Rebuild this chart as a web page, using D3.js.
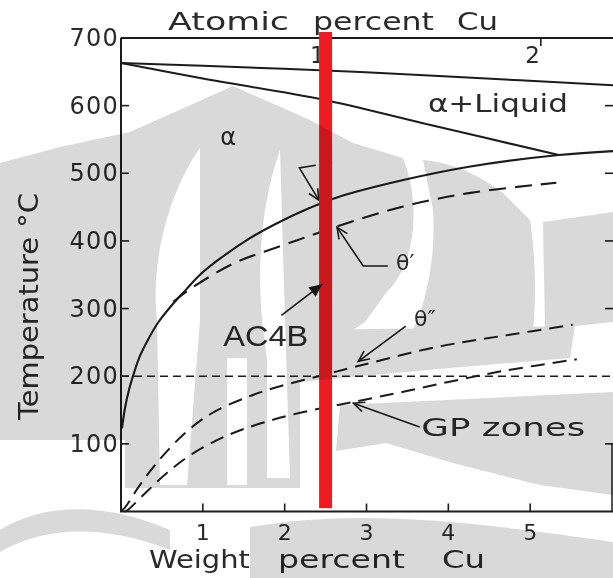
<!DOCTYPE html>
<html><head><meta charset="utf-8">
<script src="https://cdn.jsdelivr.net/npm/d3@7"></script>
<style>
body{margin:0;background:#fff}
svg{display:block}
text{font-family:"DejaVu Sans",sans-serif;fill:#2a2a2a}
</style>
</head><body>
<svg id="chart" width="613" height="578"></svg>
<script>
// ---------------- data (weight % Cu, temperature °C) ----------------
const wtTicks = [1, 2, 3, 4, 5];
const tempTicks = [100, 200, 300, 400, 500, 600];
const atomicTicks = [{label: "1", wt: 2.5}, {label: "2", wt: 5.13}];
const liquidus = [[0,663],[1,659],[2.5,652],[4,643],[6.05,630]];
const solidus = [[0,663],[1,640],[2.46,609],[3.69,574],[5.35,527]];
const solvus = [[0.012,123],[0.049,153],[0.098,180],[0.159,205],[0.232,230],[0.33,254],[0.452,279],[0.6,302],[0.795,328],[0.965,350],[1.2,373],[1.576,404],[1.87,424],[2.31,449],[2.63,464],[3.45,490],[4.27,510],[5.35,527],[6.05,533]];
const thetaPrime = [[0.64,310],[0.81,326],[1.38,367],[1.99,394],[2.63,421],[3.45,451],[4.27,471],[5.32,486]];
const thetaDoublePrime = [[0.0,0],[0.05,6],[0.23,39],[0.48,78],[0.81,119],[1.12,146],[1.54,169],[1.91,184],[2.45,201],[2.96,217],[3.85,243],[4.68,260],[5.52,276]];
const gpZones = [[0.05,0],[0.09,3],[0.32,30],[0.56,57],[0.88,86],[1.29,112],[1.7,130],[2.19,146],[2.84,162],[3.45,177],[4.06,193],[4.68,208],[5.57,225]];
const agingTemp = 200;
const alloyWt = 2.5;          // AC4B
const alloyName = "AC4B";

// ---------------- layout ----------------
const svg = d3.select("#chart");
const x = d3.scaleLinear().domain([0, 6]).range([121, 612]);
const y = d3.scaleLinear().domain([0, 700]).range([511.5, 38]);
const ink = "#1c1c1c";

const gChart = svg.append("g");

// frame
gChart.append("path")
  .attr("d", `M${x(0)},${y(700)}L${x(0)},${y(0)}L${x(6)+2},${y(0)}`)
  .attr("fill","none").attr("stroke",ink).attr("stroke-width",2);
gChart.append("line").attr("x1",x(0)).attr("x2",613).attr("y1",y(700)).attr("y2",y(700))
  .attr("stroke",ink).attr("stroke-width",2);
gChart.append("line").attr("x1",612).attr("x2",612).attr("y1",y(100)).attr("y2",y(0))
  .attr("stroke",ink).attr("stroke-width",1.5);

// ticks (inward)
gChart.selectAll(".lt").data(tempTicks).join("line")
  .attr("x1",x(0)).attr("x2",x(0)+8).attr("y1",d=>y(d)).attr("y2",d=>y(d))
  .attr("stroke",ink).attr("stroke-width",1.6);
gChart.selectAll(".rt").data(tempTicks.filter(d=>d!==200)).join("line")
  .attr("x1",605).attr("x2",613).attr("y1",d=>y(d)).attr("y2",d=>y(d))
  .attr("stroke",ink).attr("stroke-width",1.6);
gChart.selectAll(".bt").data(wtTicks).join("line")
  .attr("x1",d=>x(d)).attr("x2",d=>x(d)).attr("y1",y(0)).attr("y2",y(0)-8)
  .attr("stroke",ink).attr("stroke-width",1.6);
gChart.selectAll(".tt").data(atomicTicks).join("line")
  .attr("x1",d=>x(d.wt)).attr("x2",d=>x(d.wt)).attr("y1",y(700)).attr("y2",y(700)+8)
  .attr("stroke",ink).attr("stroke-width",1.6);

// tick labels
gChart.selectAll(".yl").data(tempTicks.concat([700])).join("text")
  .attr("x",119).attr("y",d=>y(d)+8).attr("text-anchor","end")
  .attr("font-size",24).attr("letter-spacing",1.2).text(d=>d);
gChart.selectAll(".xl").data(wtTicks).join("text")
  .attr("x",d=>x(d)).attr("y",540).attr("text-anchor","middle")
  .attr("font-size",22).text(d=>d);
gChart.selectAll(".al").data(atomicTicks).join("text")
  .attr("x",d=>x(d.wt)-1).attr("y",y(700)+25).attr("text-anchor","end")
  .attr("font-size",23).text(d=>d.label);

// axis titles
[["Atomic",168,121],["percent",313,121],["Cu",457,41]].forEach(([t,x0,w])=>{
  gChart.append("text").attr("x",x0).attr("y",30).attr("font-size",24)
    .attr("textLength",w).attr("lengthAdjust","spacingAndGlyphs").text(t);
});
[["Weight",149,101],["percent",278,127],["Cu",442,43]].forEach(([t,x0,w])=>{
  gChart.append("text").attr("x",x0).attr("y",568).attr("font-size",25)
    .attr("textLength",w).attr("lengthAdjust","spacingAndGlyphs").text(t);
});
gChart.append("text").attr("transform","translate(38,420) rotate(-90)")
  .attr("font-size",26).attr("textLength",227).attr("lengthAdjust","spacingAndGlyphs")
  .text("Temperature °C");

// curves
const line = d3.line().x(d=>x(d[0])).y(d=>y(d[1])).curve(d3.curveCatmullRom.alpha(0.5));
const curves = [
  {d: liquidus, dash: null, w: 2},
  {d: solidus, dash: null, w: 2},
  {d: solvus, dash: null, w: 2.1},
  {d: thetaPrime, dash: "17,9", w: 2.1},
  {d: thetaDoublePrime, dash: "14,8", w: 2},
  {d: gpZones, dash: "14,8", w: 2}
];
gChart.selectAll(".curve").data(curves).join("path")
  .attr("d",c=>line(c.d)).attr("fill","none").attr("stroke",ink)
  .attr("stroke-width",c=>c.w).attr("stroke-dasharray",c=>c.dash);

// 200 °C aging line
gChart.append("line").attr("x1",x(0)).attr("x2",613).attr("y1",y(agingTemp)).attr("y2",y(agingTemp))
  .attr("stroke",ink).attr("stroke-width",1.6).attr("stroke-dasharray","8,5");

// region labels
gChart.append("text").attr("x",x(1.31)).attr("y",y(542)).attr("text-anchor","middle")
  .attr("font-size",24).text("α");
gChart.append("text").attr("x",x(3.75)).attr("y",y(591)).attr("font-size",25)
  .attr("textLength",140).attr("lengthAdjust","spacingAndGlyphs").text("α+Liquid");

// annotation helpers
function arrowHead(tip, from, filled){
  const [tx,ty]=[x(tip[0]),y(tip[1])],[fx,fy]=[x(from[0]),y(from[1])];
  const a=Math.atan2(ty-fy,tx-fx), L=filled?13:11, H=filled?6:5;
  const p1=[tx-L*Math.cos(a)+H*Math.sin(a), ty-L*Math.sin(a)-H*Math.cos(a)];
  const p2=[tx-L*Math.cos(a)-H*Math.sin(a), ty-L*Math.sin(a)+H*Math.cos(a)];
  if(filled){
    gChart.append("path").attr("d",`M${tx},${ty}L${p1}L${p2}Z`).attr("fill",ink);
  } else {
    gChart.append("path").attr("d",`M${p1}L${tx},${ty}L${p2}`).attr("fill","none")
      .attr("stroke",ink).attr("stroke-width",1.6);
  }
}
function leader(pts, filled){
  gChart.append("path").attr("d",d3.line().x(d=>x(d[0])).y(d=>y(d[1]))(pts))
    .attr("fill","none").attr("stroke",ink).attr("stroke-width",1.6);
  arrowHead(pts[pts.length-1], pts[pts.length-2], filled);
}
gChart.append("text").attr("x",x(2.52)).attr("y",y(505)).attr("text-anchor","middle")
  .attr("font-size",20).text("θ");
leader([[2.38,512],[2.18,508],[2.42,460]], false);
gChart.append("text").attr("x",x(3.36)).attr("y",y(357)).attr("font-size",22).text("θ′");
leader([[3.26,363],[2.96,363],[2.64,420]], false);
gChart.append("text").attr("x",x(3.58)).attr("y",y(274)).attr("font-size",22).text("θ″");
leader([[3.48,274],[2.9,222]], false);
gChart.append("text").attr("x",x(3.67)).attr("y",y(112)).attr("font-size",25)
  .attr("textLength",164).attr("lengthAdjust","spacingAndGlyphs").text("GP zones");
leader([[3.65,125],[2.84,160]], false);

// alloy composition bar
gChart.append("rect").attr("x",x(alloyWt)-6.5).attr("width",13)
  .attr("y",y(700)-6).attr("height",y(5)-(y(700)-6)).attr("fill","#ee1c22");
gChart.append("text").attr("x",x(1.25)).attr("y",y(245))
  .style("font-family","'Liberation Sans',Arial,sans-serif").attr("font-size",29)
  .attr("textLength",85).attr("lengthAdjust","spacingAndGlyphs").text(alloyName);
leader([[1.96,290],[2.46,336]], true);

// ---------------- background watermark (decoration, multiplied over everything) ----------------
const WM_GRAY = [
  "M0,163 L60,147 L130,132 L233,86 L310,120 L353,143 L403,158 C420,200 418,262 386,293 L365,322 L330,345 L300,365 L300,488 L125,488 L125,440 L0,440 Z",
  "M423,160 C450,162 480,175 503,193 L530,220 C536,260 536,300 533,330 L413,330 C428,300 436,250 433,210 Z",
  "M543,222 L613,212 L613,322 L575,326 L545,330 Z",
  "M300,330 L575,326 L570,358 L450,368 L340,378 L300,382 Z",
  "M340,405 L613,392 L613,495 L540,485 L453,463 L386,443 L336,451 Z",
  "M250,527 C350,510 450,518 613,542 L613,578 L250,578 Z",
  "M0,530 C40,505 100,500 170,530 L170,550 C100,522 40,528 0,552 Z"
];
const WM_WHITE = [
  "M200,148 C170,190 150,260 157,320 L160,485 L187,485 L200,320 Z",
  "M280,150 C262,200 257,260 262,320 L267,360 L267,478 L290,478 L285,320 Z",
  "M227,358 L247,358 L247,485 L227,485 Z"
];
const wm = svg.append("g").style("mix-blend-mode","multiply");
wm.selectAll(".g").data(WM_GRAY).join("path").attr("d",d=>d).attr("fill","#d9d9d9");
wm.selectAll(".w").data(WM_WHITE).join("path").attr("d",d=>d).attr("fill","#ffffff");
</script>
</body></html>
